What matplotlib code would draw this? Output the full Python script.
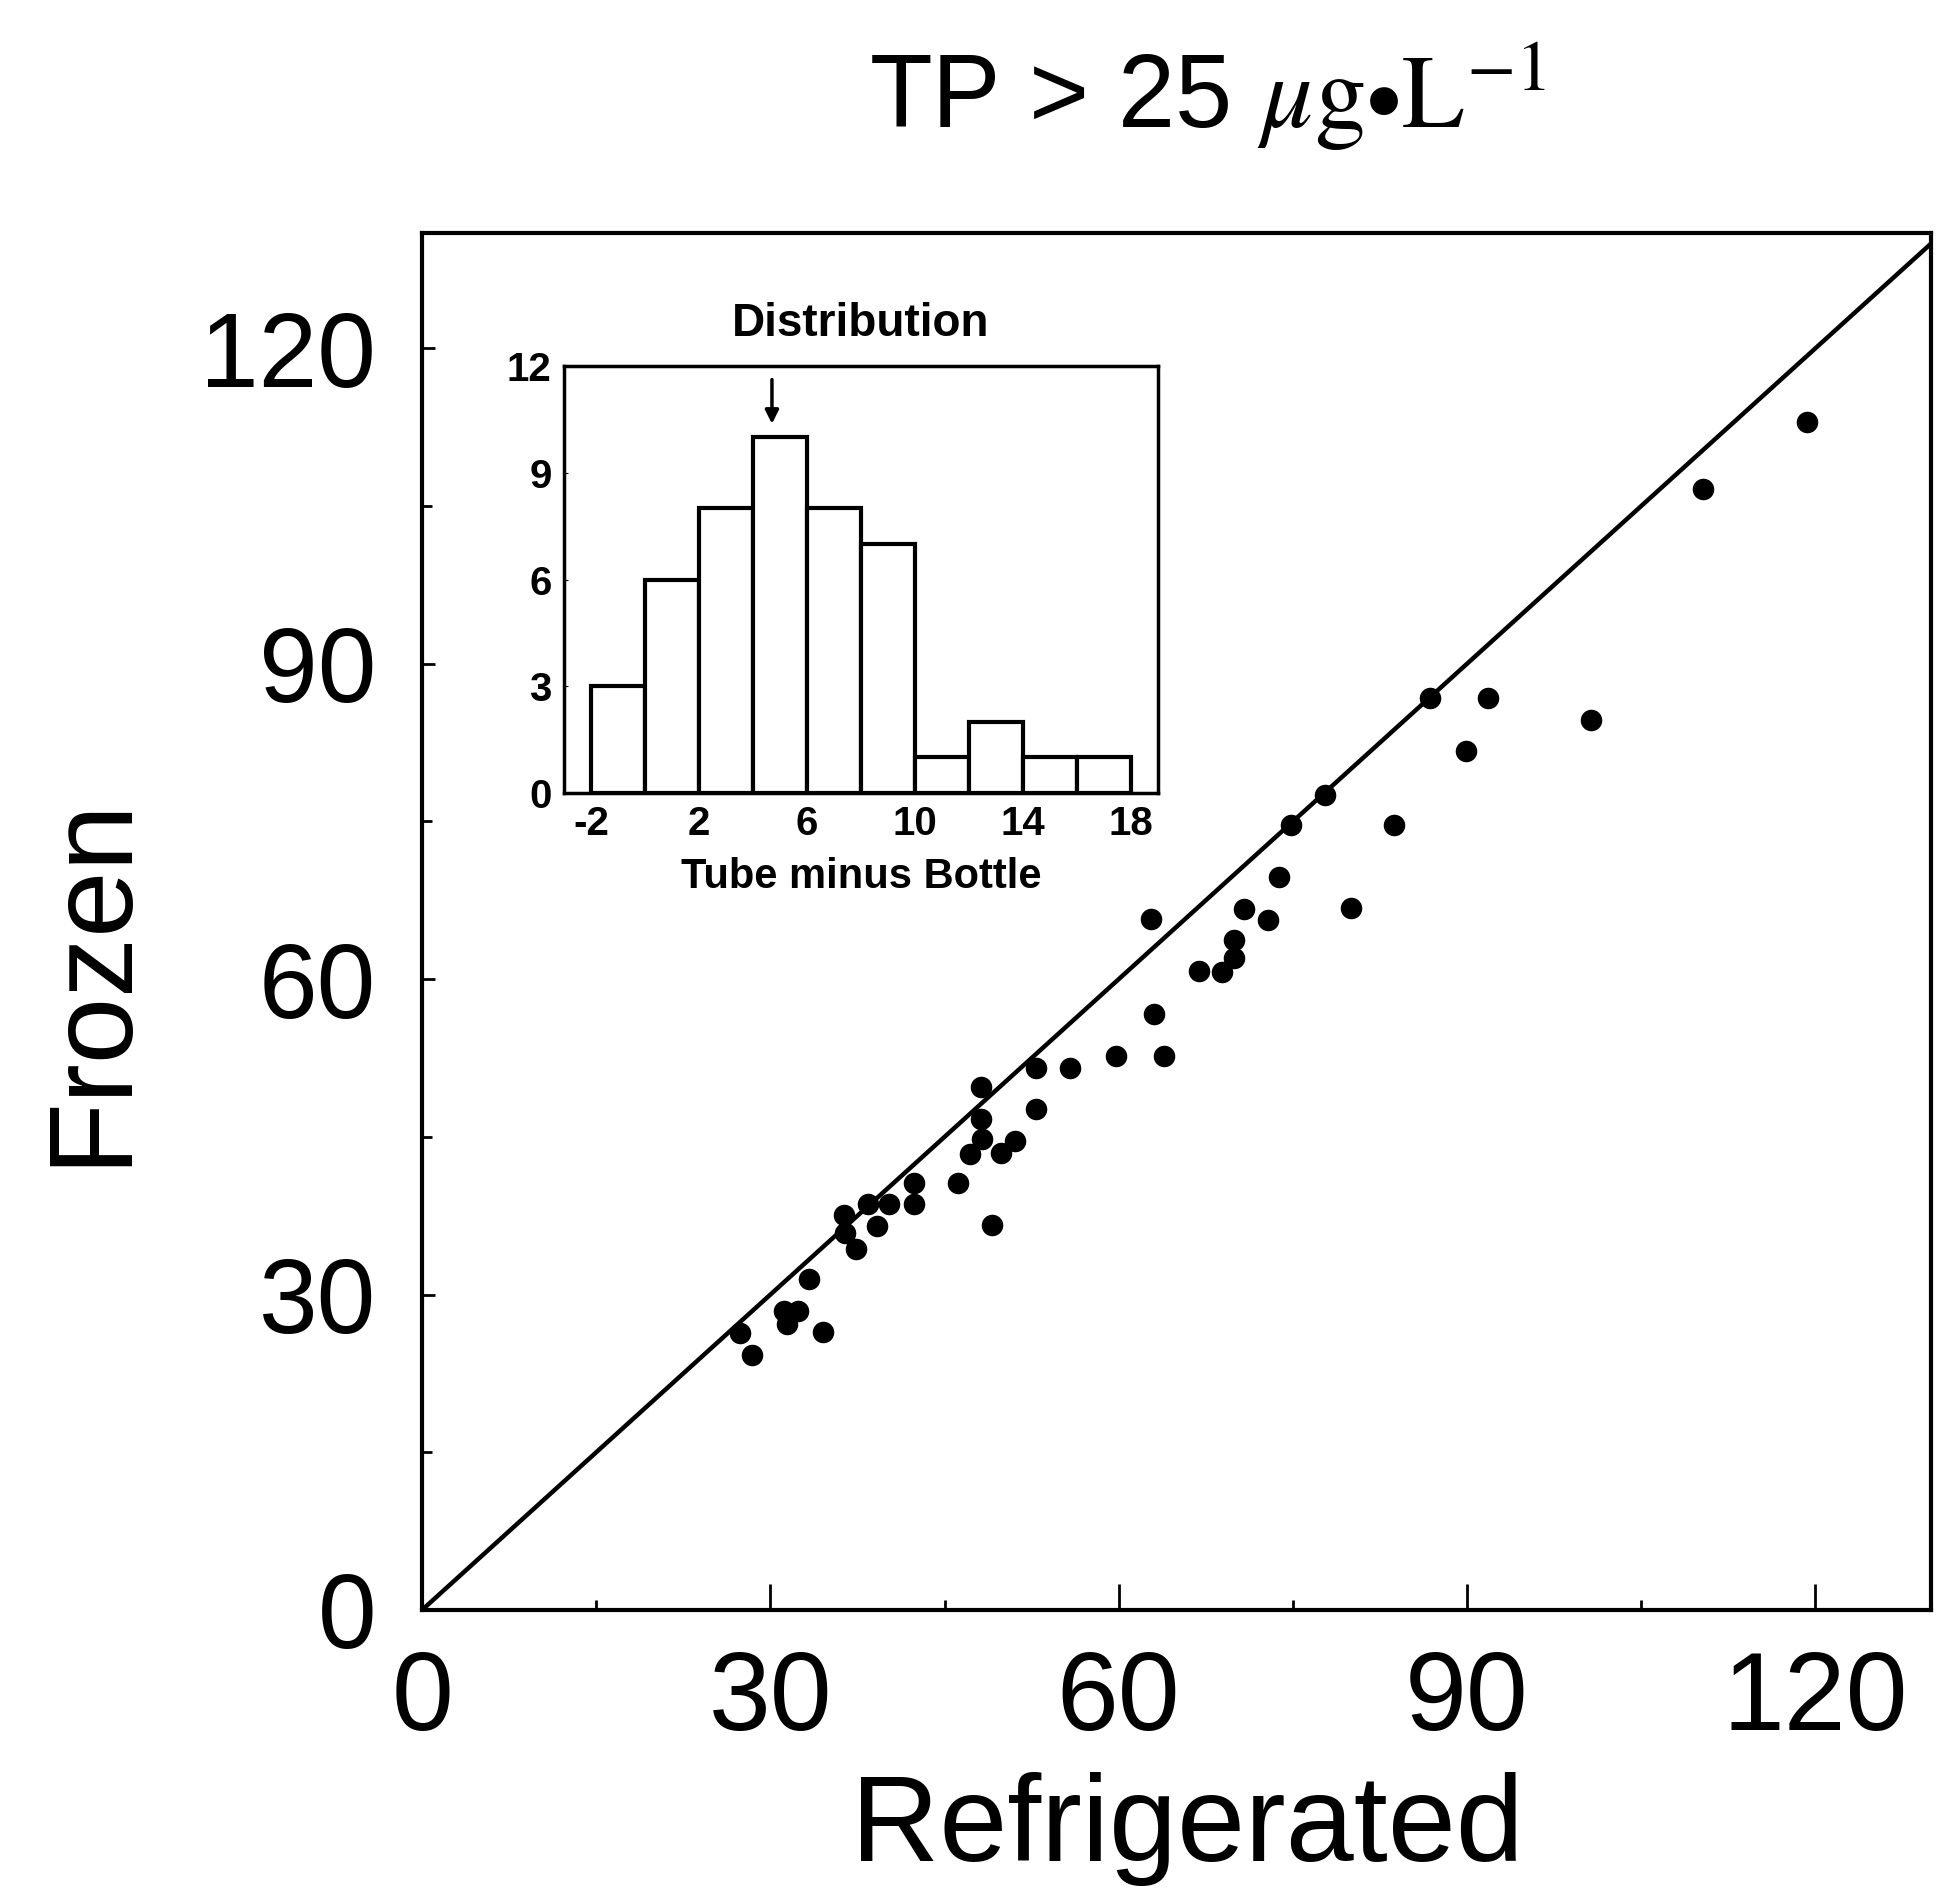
import matplotlib.pyplot as plt
import numpy as np

plt.rcParams['font.family'] = ['Liberation Sans', 'DejaVu Sans']
plt.rcParams['mathtext.fontset'] = 'stix'
plt.rcParams['axes.unicode_minus'] = False

# TP (ug/L), refrigerated vs frozen samples
refrigerated = [27.4, 28.4, 31.2, 32.4, 31.4, 34.5, 33.3, 36.3, 36.4, 37.4,
                38.4, 39.2, 40.2, 42.4, 42.4, 46.2, 47.2, 48.2, 48.1, 48.1,
                49.1, 49.9, 51.1, 52.9, 52.9, 55.8, 59.8, 63.9, 63.0, 62.8,
                66.9, 68.9, 69.9, 69.9, 70.8, 72.9, 73.8, 80.0, 74.8, 77.8,
                83.7, 86.8, 89.9, 91.8, 100.7, 110.3, 119.3]
frozen = [26.3, 24.3, 28.4, 28.4, 27.2, 26.4, 31.5, 37.6, 35.9, 34.3,
          38.6, 36.5, 38.6, 38.6, 40.6, 40.6, 43.4, 44.8, 46.7, 49.7,
          36.6, 43.5, 44.6, 47.7, 51.6, 51.6, 52.7, 52.7, 56.7, 65.7,
          60.8, 60.7, 62.0, 63.7, 66.7, 65.6, 69.7, 66.8, 74.7, 77.5,
          74.7, 86.7, 81.7, 86.7, 84.7, 106.6, 113.0]

# inset histogram (tube minus bottle)
bin_edges = [-2, 0, 2, 4, 6, 8, 10, 12, 14, 16, 18]
bin_counts = [3, 6, 8, 10, 8, 7, 1, 2, 1, 1]
mean_diff = 4.7

fig = plt.figure(figsize=(19.45, 18.97), dpi=100)
ax = fig.add_axes([0.217, 0.1513, 0.776, 0.726])

# 1:1 line
ax.plot([0, 140], [0, 140], color='black', lw=3.2)
ax.plot(refrigerated, frozen, 'o', color='black', ms=14.5)

ax.set_xlim(0, 130)
ax.set_ylim(0, 131)
ax.set_xticks([0, 30, 60, 90, 120])
ax.set_yticks([0, 30, 60, 90, 120])
ax.set_xticks(np.arange(15, 130, 30), minor=True)
ax.set_yticks(np.arange(15, 130, 30), minor=True)
ax.tick_params(axis='x', which='major', direction='in', length=19, width=2, labelsize=80, pad=28)
ax.tick_params(axis='x', which='minor', direction='in', length=7, width=2)
ax.tick_params(axis='y', which='major', direction='in', length=9, width=2, labelsize=76, pad=33)
ax.tick_params(axis='y', which='minor', direction='in', length=7, width=2)
for s in ax.spines.values():
    s.set_linewidth(3)

fig.text(1187 / 1945, 1 - 1861 / 1897, 'Refrigerated', ha='center', va='baseline', fontsize=88)
fig.text(93 / 1945, 1 - 980 / 1897, 'Frozen', ha='center', va='center', rotation=90, fontsize=86)
fig.text(1207 / 1945, 1 - 128 / 1897, r'TP > 25 $\mu\mathrm{g}{\bullet}\mathrm{L}^{-1}$',
         ha='center', va='baseline', fontsize=74)

# inset
ins = fig.add_axes([0.290, 0.582, 0.3054, 0.225])
ins.bar(bin_edges[:-1], bin_counts, width=2, align='edge', color='white', edgecolor='black', lw=3)
ins.set_xlim(-3, 19)
ins.set_ylim(0, 12)
ins.set_xticks([-2, 2, 6, 10, 14, 18])
ins.set_yticks([0, 3, 6, 9, 12])
ins.tick_params(direction='in', length=3, labelsize=29, pad=9)
for label in ins.get_xticklabels() + ins.get_yticklabels():
    label.set_fontweight('bold')
for s in ins.spines.values():
    s.set_linewidth(2.5)
ins.set_title('Distribution', fontsize=33, fontweight='bold', pad=22)
ins.set_xlabel('Tube minus Bottle', fontsize=30, fontweight='bold', labelpad=10)
ins.annotate('', xy=(mean_diff, 10.3), xytext=(mean_diff, 11.7),
             arrowprops=dict(arrowstyle='-|>', color='black', lw=2.5, mutation_scale=20))

plt.savefig('out.png', dpi=100)
